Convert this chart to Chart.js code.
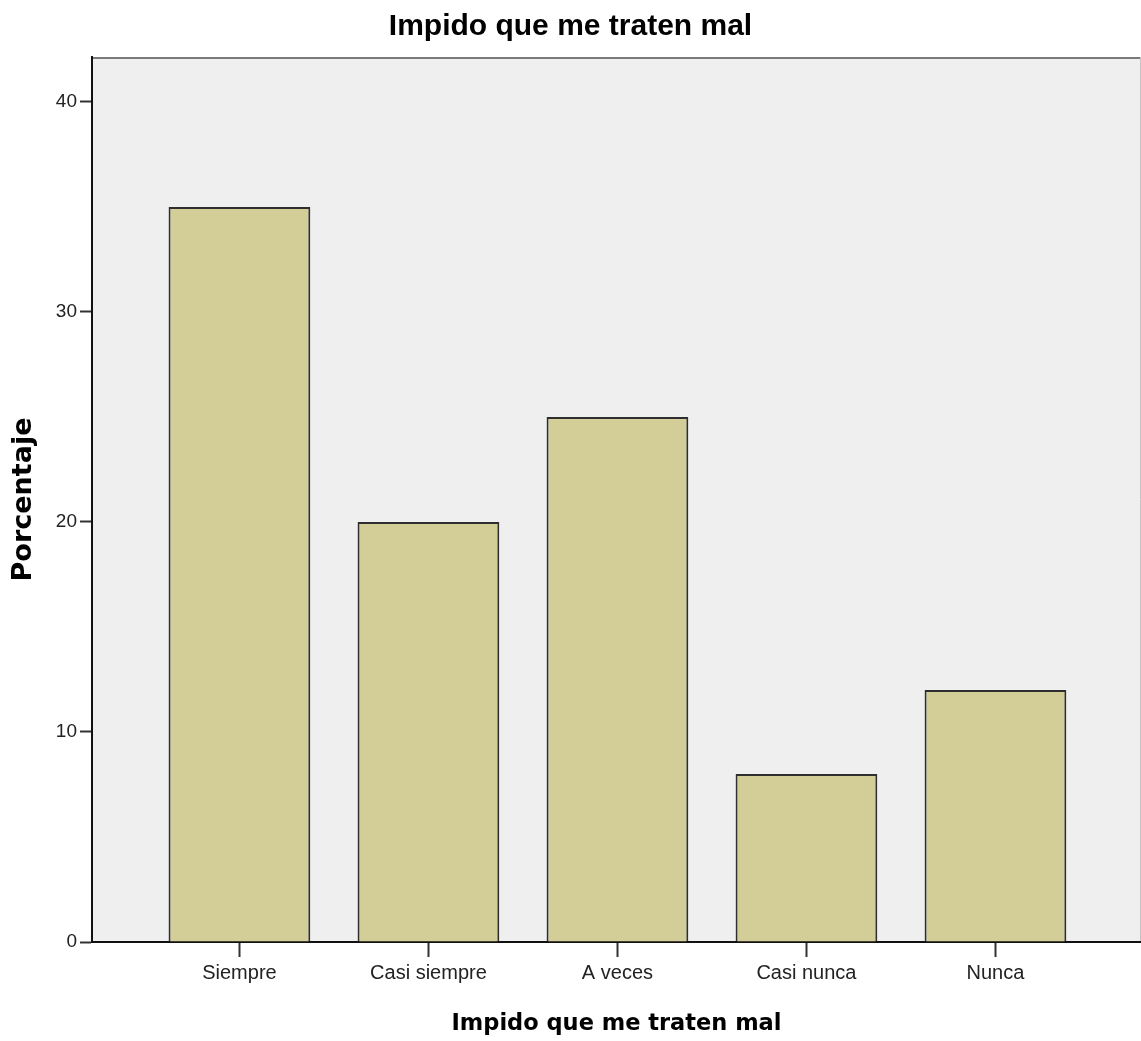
<!DOCTYPE html>
<html>
<head>
<meta charset="utf-8">
<script src="https://cdn.jsdelivr.net/npm/chart.js@4/dist/chart.umd.min.js"></script>
<style>
    html, body { margin: 0; padding: 0; background: #ffffff; }
    #wrap { width: 1141px; height: 1041px; position: relative; }
</style>
</head>
<body>
<div id="wrap"><canvas id="barChart"></canvas></div>
<script>
const chartTitle = "Impido que me traten mal";
const xTitle = "Impido que me traten mal";
const yTitle = "Porcentaje";
const categories = ["Siempre", "Casi siempre", "A veces", "Casi nunca", "Nunca"];
const percentages = [35, 20, 25, 8, 12];
const yTicks = [0, 10, 20, 30, 40];
const yMax = 42.14;

// plot background + frame like the SPSS output
const plotFrame = {
    id: 'plotFrame',
    beforeDraw(chart) {
        const { ctx, chartArea: a } = chart;
        ctx.save();
        ctx.fillStyle = "#efefef";
        ctx.fillRect(a.left, a.top, a.right - a.left, a.bottom - a.top);
        ctx.strokeStyle = "#7a7a7a";
        ctx.lineWidth = 2;
        ctx.beginPath();
        ctx.moveTo(a.left, a.top + 1);
        ctx.lineTo(a.right, a.top + 1);
        ctx.stroke();
        ctx.strokeStyle = "#c4c4c4";
        ctx.lineWidth = 1;
        ctx.beginPath();
        ctx.moveTo(a.right - 0.5, a.top);
        ctx.lineTo(a.right - 0.5, a.bottom);
        ctx.stroke();
        ctx.restore();
    }
};

const ctx = document.getElementById('barChart').getContext('2d');

new Chart(ctx, {
    type: 'bar',
    data: {
        datasets: [{
            data: percentages.map((v, i) => ({ x: i, y: v })),
            backgroundColor: "#d3ce97",
            borderColor: "#2e2e2e",
            borderWidth: 2,
            categoryPercentage: 1,
            barPercentage: 0.75
        }]
    },
    options: {
        responsive: true,
        maintainAspectRatio: false,
        animation: false,
        layout: { padding: 0 },
        plugins: {
            legend: { display: false },
            tooltip: { enabled: false },
            title: {
                display: true,
                text: chartTitle,
                color: "#000000",
                font: { family: "'Liberation Sans', Arial, sans-serif", size: 30, weight: 'bold' },
                padding: { top: 9, bottom: 12 }
            }
        },
        scales: {
            x: {
                type: 'linear',
                offset: false,
                min: -0.78,
                max: 4.77,
                afterFit: function (scale) { scale.height = 99; },
                ticks: {
                    stepSize: 1,
                    includeBounds: false,
                    autoSkip: false,
                    maxRotation: 0,
                    padding: 4,
                    color: "#222222",
                    font: { family: "'Liberation Sans', Arial, sans-serif", size: 20 },
                    callback: function (value) {
                        return Number.isInteger(value) ? categories[value] : "";
                    }
                },
                grid: {
                    display: true,
                    offset: false,
                    drawOnChartArea: false,
                    tickLength: 15,
                    tickWidth: 2,
                    color: "#333333"
                },
                border: { display: true, color: "#111111", width: 2 },
                title: {
                    display: true,
                    text: xTitle,
                    color: "#000000",
                    font: { family: "'DejaVu Sans', sans-serif", size: 22.5, weight: 'bold' },
                    padding: { top: 0, bottom: 3 }
                }
            },
            y: {
                min: 0,
                max: yMax,
                afterFit: function (scale) { scale.width = 92; },
                afterBuildTicks: function (scale) {
                    scale.ticks = yTicks.map(v => ({ value: v }));
                },
                ticks: {
                    padding: 3,
                    color: "#222222",
                    font: { family: "'Liberation Sans', Arial, sans-serif", size: 19 }
                },
                grid: {
                    display: true,
                    drawOnChartArea: false,
                    tickLength: 12,
                    tickWidth: 2,
                    color: "#333333"
                },
                border: { display: true, color: "#111111", width: 2 },
                title: {
                    display: true,
                    text: yTitle,
                    color: "#000000",
                    font: { family: "'DejaVu Sans', sans-serif", size: 27, weight: 'bold' },
                    padding: { top: 8, bottom: 0 }
                }
            }
        }
    },
    plugins: [plotFrame]
});
</script>
</body>
</html>
